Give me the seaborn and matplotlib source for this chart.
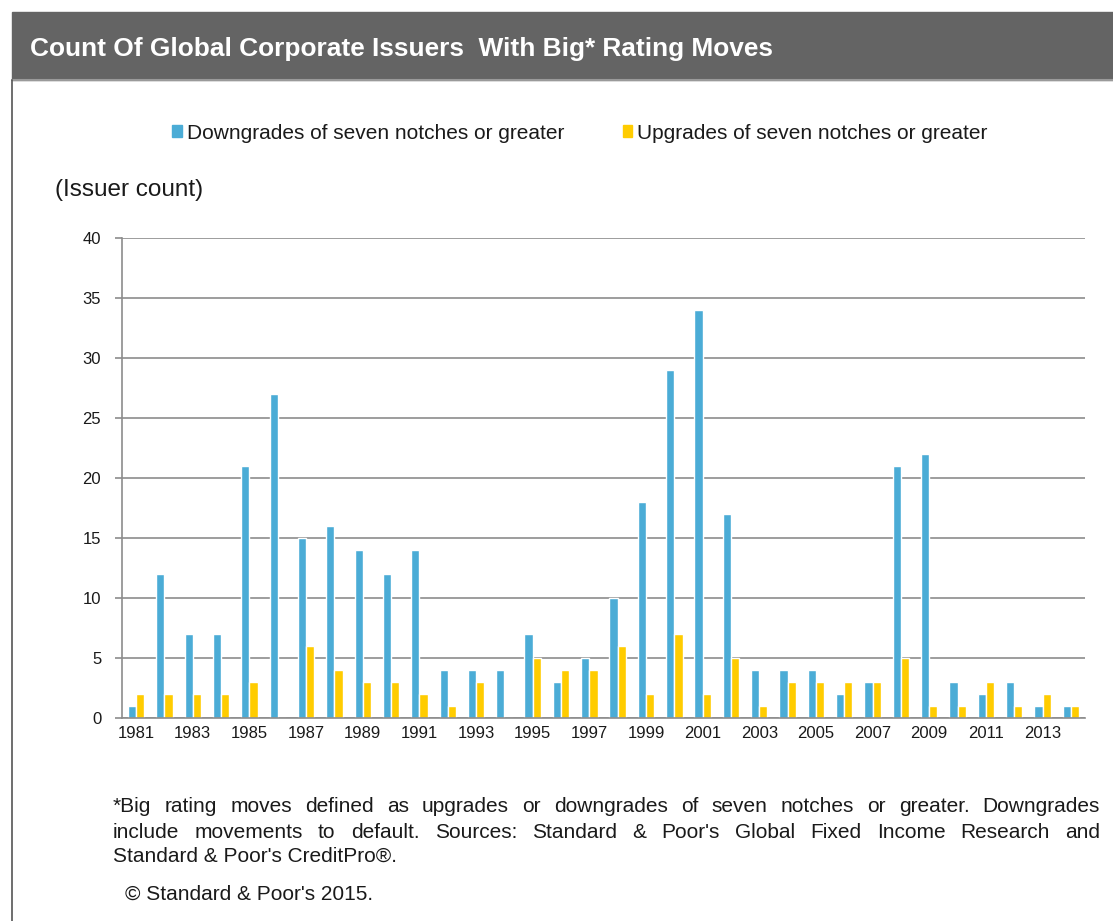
import numpy as np
import pandas as pd
import matplotlib
matplotlib.use("Agg")
import matplotlib.pyplot as plt
import seaborn as sns
from matplotlib.patches import Rectangle
from matplotlib.lines import Line2D

# data
years = list(range(1981, 2015))
downgrades = [1, 12, 7, 7, 21, 27, 15, 16, 14, 12, 14, 4, 4, 4, 7, 3, 5,
              10, 18, 29, 34, 17, 4, 4, 4, 2, 3, 21, 22, 3, 2, 3, 1, 1]
upgrades = [2, 2, 2, 2, 3, 0, 6, 4, 3, 3, 2, 1, 3, 0, 5, 4, 4,
            6, 2, 7, 2, 5, 1, 3, 3, 3, 3, 5, 1, 1, 3, 1, 2, 1]
series_names = ["Downgrades of seven notches or greater",
                "Upgrades of seven notches or greater"]
y_ticks = [0, 5, 10, 15, 20, 25, 30, 35, 40]

BLUE = "#4BACD6"
YELLOW = "#FFCC00"
GRID = "#8c8c8c"
TXT = "#1a1a1a"

df = pd.DataFrame({"year": years * 2,
                   "count": downgrades + upgrades,
                   "series": [series_names[0]] * len(years) + [series_names[1]] * len(years)})
df["year"] = df["year"].astype(str)

sns.set_theme(style="white")
plt.rcParams["font.family"] = ["Liberation Sans", "DejaVu Sans"]

W, H = 1113, 921
fig = plt.figure(figsize=(W / 100, H / 100), dpi=100)

# header band + frame line
fig.patches.append(Rectangle((12 / W, 1 - 80 / H), 1 - 12 / W, 68 / H,
                             transform=fig.transFigure, color="#646464", zorder=0))
fig.add_artist(Line2D([12 / W, 1], [1 - 80 / H, 1 - 80 / H], transform=fig.transFigure,
                      color="#9a9a9a", lw=1.5))
fig.add_artist(Line2D([12 / W, 12 / W], [0, 1 - 80 / H], transform=fig.transFigure,
                      color="#555555", lw=1.2))
fig.text(30 / W, 1 - 49 / H, "Count Of Global Corporate Issuers  With Big* Rating Moves",
         color="white", fontsize=18.9, fontweight="bold", va="center")

ax = fig.add_axes([122 / W, 1 - 718 / H, (1085 - 122) / W, (718 - 238) / H])
sns.barplot(data=df, x="year", y="count", hue="series", order=[str(y) for y in years],
            hue_order=series_names, palette=[BLUE, YELLOW], width=0.58,
            saturation=1, legend=False, ax=ax)

ax.set_xlim(-0.5, len(years) - 0.5)
ax.set_ylim(0, 40)
ax.set_yticks(y_ticks)
ax.yaxis.grid(True, color=GRID, lw=1.2)
ax.set_axisbelow(True)
ax.set_xlabel("")
ax.set_ylabel("")
for s in ["top", "right"]:
    ax.spines[s].set_visible(False)
for s in ["left", "bottom"]:
    ax.spines[s].set_color(GRID)
    ax.spines[s].set_linewidth(1.2)

# labels on every other year, tick marks between categories
ax.set_xticks(range(0, len(years), 2))
ax.set_xticklabels([str(y) for y in years[::2]])
ax.set_xticks(np.arange(-0.5, len(years), 1), minor=True)
ax.tick_params(axis="x", which="major", length=0, labelsize=12, pad=6)
ax.tick_params(axis="x", which="minor", length=6, width=1.2, color=GRID, direction="out")
ax.tick_params(axis="y", length=5, width=1.2, color=GRID, labelsize=12, pad=10, left=True)
for lbl in ax.get_yticklabels() + ax.get_xticklabels():
    lbl.set_color(TXT)

# legend
handles = [Rectangle((0, 0), 1, 1, color=BLUE), Rectangle((0, 0), 1, 1, color=YELLOW)]
leg = fig.legend(handles, series_names, loc="center", bbox_to_anchor=(580 / W, 1 - 133 / H),
                 ncol=2, frameon=False, handlelength=0.45, handleheight=0.55,
                 handletextpad=0.25, columnspacing=2.8, prop={"size": 15})
for t in leg.get_texts():
    t.set_color(TXT)

fig.text(55 / W, 1 - 190 / H, "(Issuer count)", fontsize=17.5, va="center", color=TXT)

# justified footnote
FOOT = 15
foot_lines = [
    "*Big rating moves defined as upgrades or downgrades of seven notches or greater.  Downgrades",
    "include movements to default. Sources: Standard & Poor's Global Fixed  Income Research and",
]
foot_y = [807, 832]
x0, x1 = 113 / W, 1100 / W
fig.canvas.draw()
renderer = fig.canvas.get_renderer()
for line, yy in zip(foot_lines, foot_y):
    words = line.split()
    tmp = [fig.text(0, 1 - yy / H, w, fontsize=FOOT, va="center", color=TXT) for w in words]
    widths = [t.get_window_extent(renderer).width / W for t in tmp]
    gap = (x1 - x0 - sum(widths)) / (len(words) - 1)
    x = x0
    for t, w in zip(tmp, widths):
        t.set_x(x)
        x += w + gap
fig.text(x0, 1 - 856 / H, "Standard & Poor's CreditPro\u00ae.", fontsize=FOOT,
         va="center", color=TXT)
fig.text(125 / W, 1 - 894 / H, "\u00a9 Standard & Poor's 2015.", fontsize=FOOT,
         va="center", color=TXT)

fig.savefig("out.png", dpi=100)
